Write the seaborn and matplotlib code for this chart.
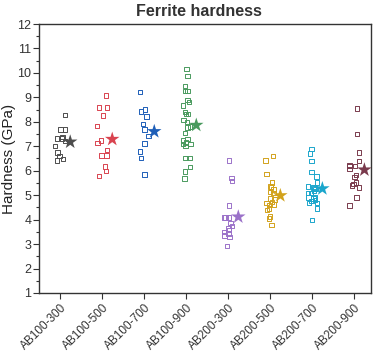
import numpy as np
import pandas as pd
import matplotlib
matplotlib.use("Agg")
import matplotlib.pyplot as plt
from matplotlib.ticker import MultipleLocator
import seaborn as sns

# sample names
samples = ["AB100-300", "AB100-500", "AB100-700", "AB100-900",
           "AB200-300", "AB200-500", "AB200-700", "AB200-900"]

# hardness readings (GPa) per sample
ab100_300 = [8.29, 7.69, 7.69, 7.37, 7.31, 7.31, 7.21, 7.01, 6.75, 6.60, 6.49, 6.42]
ab100_500 = [9.08, 8.58, 8.58, 8.25, 7.83, 7.24, 7.13, 6.85, 6.63, 6.63, 6.18, 6.00, 5.78]
ab100_700 = [9.21, 8.51, 8.43, 8.21, 7.91, 7.69, 7.43, 7.12, 6.78, 6.53, 5.84]
ab100_900 = [10.16, 9.87, 9.46, 9.26, 9.26, 8.89, 8.80, 8.67, 8.40, 8.32, 8.32, 8.07,
             8.00, 7.76, 7.80, 7.55, 7.30, 7.23, 7.15, 7.09, 7.09, 7.01, 6.52, 6.52,
             6.16, 5.96, 5.69]
ab200_300 = [6.41, 5.71, 5.59, 4.57, 4.08, 4.08, 4.08, 3.87, 3.74, 3.64, 3.57, 3.49,
             3.44, 3.35, 3.30, 2.92]
ab200_500 = [6.61, 6.41, 5.87, 5.51, 5.35, 5.32, 5.24, 5.14, 5.10, 4.87, 4.83, 4.73,
             4.69, 4.60, 4.61, 4.46, 4.39, 4.12, 4.05, 3.79]
ab200_700 = [6.89, 6.71, 6.40, 5.95, 5.76, 5.51, 5.32, 5.35, 5.28, 5.18, 5.26, 5.10,
             5.10, 4.87, 4.91, 4.91, 4.80, 4.77, 4.69, 4.69, 4.46, 3.98]
ab200_900 = [8.55, 7.50, 6.74, 6.40, 6.22, 6.19, 6.19, 6.08, 5.82, 5.75, 5.51, 5.46,
             5.40, 5.32, 4.91, 4.57]

colors = ["#4d4d4d", "#d9434f", "#1f5fb8", "#4a9a5e",
          "#9b72c9", "#d2a21c", "#1ba6cc", "#7a3b4d"]

groups = [ab100_300, ab100_500, ab100_700, ab100_900,
          ab200_300, ab200_500, ab200_700, ab200_900]

df = pd.DataFrame({
    "sample": np.repeat(samples, [len(g) for g in groups]),
    "hardness": np.concatenate(groups),
})
means = df.groupby("sample", sort=False)["hardness"].mean()

sns.set_style("ticks")
plt.rcParams["font.family"] = ["Liberation Sans", "DejaVu Sans"]

fig = plt.figure(figsize=(3.76, 3.53), dpi=100)
ax = fig.add_axes([0.104, 0.170, 0.883, 0.762])

np.random.seed(4)
sns.stripplot(data=df, x="sample", y="hardness", hue="sample", order=samples,
              palette=colors, marker="s", size=3.2, jitter=0.12, linewidth=0.7,
              legend=False, ax=ax)

# make squares hollow
for coll in ax.collections:
    fc = coll.get_facecolors()
    coll.set_edgecolors(fc)
    coll.set_facecolors("none")

# mean stars, shifted right of each column
for i, s in enumerate(samples):
    ax.scatter(i + 0.24, means[s], marker="*", s=120, color=colors[i],
               edgecolor="none", zorder=5)

ax.set_xlim(-0.5, 7.4)
ax.set_ylim(1, 12)
ax.yaxis.set_major_locator(MultipleLocator(1))
ax.yaxis.set_minor_locator(MultipleLocator(0.5))
ax.tick_params(axis="y", which="major", length=4, width=0.8, pad=1.5,
               labelsize=9, colors="#333333")
ax.tick_params(axis="y", which="minor", length=2.5, width=0.8, colors="#333333")
ax.tick_params(axis="x", length=4, width=0.8, pad=2.5, labelsize=8.5, colors="#333333")
plt.setp(ax.get_xticklabels(), rotation=45, ha="right", rotation_mode="anchor")
for sp in ax.spines.values():
    sp.set_visible(True)
    sp.set_color("#333333")
    sp.set_linewidth(1.0)

ax.set_xlabel("")
ax.set_ylabel("Hardness (GPa)", fontsize=11, color="#222222", labelpad=1)
ax.set_title("Ferrite hardness", fontsize=11.5, fontweight="bold", color="#333333",
             pad=6, x=0.48)

fig.savefig("out.png", dpi=100)
